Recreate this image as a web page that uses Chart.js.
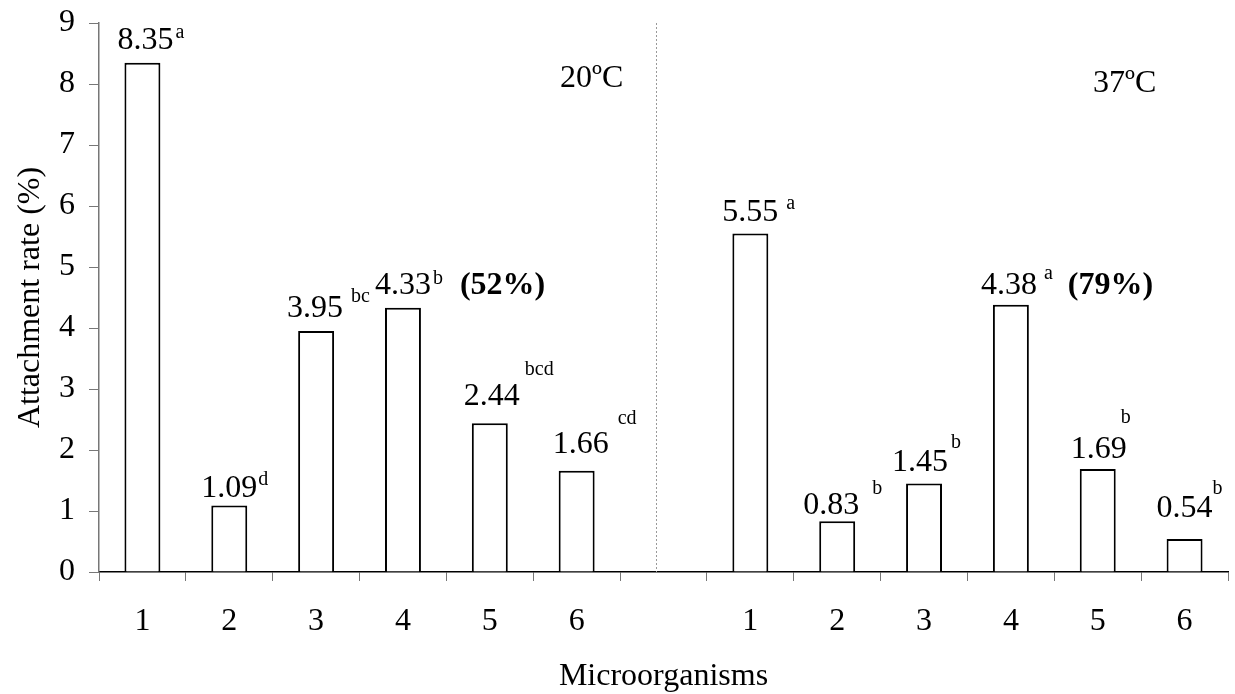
<!DOCTYPE html>
<html>
<head>
<meta charset="utf-8">
<script src="https://cdn.jsdelivr.net/npm/chart.js"></script>
<style>
  body { margin: 0; background: #fff; }
</style>
</head>
<body>
<canvas id="attachment-chart" width="1235" height="694"></canvas>
<script>
// microorganism numbers, one blank slot splits the two temperatures
var categories = ['1', '2', '3', '4', '5', '6', '', '1', '2', '3', '4', '5', '6'];

// attachment rate (%) at each temperature
var rate20 = [8.35, 1.09, 3.95, 4.33, 2.44, 1.66];
var rate37 = [5.55, 0.83, 1.45, 4.38, 1.69, 0.54];

// significance letters
var letters20 = ['a', 'd', 'bc', 'b', 'bcd', 'cd'];
var letters37 = ['a', 'b', 'b', 'a', 'b', 'b'];

// percentage shown beside strain 4
var percent20 = '(52%)';
var percent37 = '(79%)';

var groupLabels = ['20ºC', '37ºC'];

var yMin = 0, yMax = 9, yStep = 1;

var values = rate20.concat([null], rate37);
var letters = letters20.concat([''], letters37);

var serif = '"Liberation Serif", "Times New Roman", serif';

// label placement per bar: gap above bar, text nudge, letter gap and rise
var textGap = [14, 9, 14, 14, 18, 18, 0, 12, 7, 13, 11, 11, 22];
var textDx  = [3, 0, -1, 0, 2, 4, 0, 0, -6, -4, -2, 1, 0];
var supGap  = [2, 1, 8, 2, 5, 9, 0, 8, 13, 3, 7, -6, 0];
var supRise = [11, 12, 15, 10, 30, 29, 0, 12, 20, 23, 15, 35, 23];

var barLabels = {
    id: 'barLabels',
    afterDatasetsDraw: function (chart) {
        var ctx = chart.ctx;
        var bars = chart.getDatasetMeta(0).data;
        var x = chart.scales.x;
        var area = chart.chartArea;
        ctx.save();
        ctx.fillStyle = '#000';
        ctx.textBaseline = 'alphabetic';

        bars.forEach(function (bar, i) {
            if (values[i] == null) return;
            var text = values[i].toFixed(2);
            var base = bar.y - textGap[i];
            var cx = bar.x + textDx[i];
            ctx.font = '32px ' + serif;
            ctx.textAlign = 'center';
            ctx.fillText(text, cx, base);
            var w = ctx.measureText(text).width;
            ctx.font = '20px ' + serif;
            ctx.textAlign = 'left';
            ctx.fillText(letters[i], cx + w / 2 + supGap[i], base - supRise[i]);
        });

        // bold percentages beside bar 4 of each group
        ctx.font = 'bold 32px ' + serif;
        ctx.textAlign = 'left';
        [[3, percent20], [10, percent37]].forEach(function (p) {
            var bar = bars[p[0]];
            ctx.fillText(p[1], bar.x + bar.width / 2 + 39, bar.y - textGap[p[0]]);
        });

        // temperature headings
        ctx.font = '32px ' + serif;
        ctx.textAlign = 'center';
        ctx.fillText(groupLabels[0], x.getPixelForValue(5) + 15, area.top + 64);
        ctx.fillText(groupLabels[1], x.getPixelForValue(11) + 27, area.top + 69);

        // dotted divider between the temperatures
        var dx = Math.round(x.getPixelForValue(6) - 8) + 0.5;
        ctx.strokeStyle = '#999';
        ctx.lineWidth = 1;
        ctx.setLineDash([2, 2]);
        ctx.beginPath();
        ctx.moveTo(dx, area.top);
        ctx.lineTo(dx, area.bottom);
        ctx.stroke();
        ctx.restore();
    }
};

var ctx = document.getElementById('attachment-chart').getContext('2d');
var chart = new Chart(ctx, {
    type: 'bar',
    data: {
        labels: categories,
        datasets: [{
            data: values,
            backgroundColor: '#fff',
            borderColor: '#000',
            borderWidth: 2,
            barPercentage: 0.414,
            categoryPercentage: 1
        }]
    },
    options: {
        responsive: false,
        animation: false,
        layout: { padding: { top: 23, right: 7, left: 0, bottom: 0 } },
        plugins: {
            legend: { display: false },
            tooltip: { enabled: false }
        },
        scales: {
            x: {
                grid: { offset: true, drawOnChartArea: false, tickLength: 9, color: '#777' },
                border: { color: '#000', width: 1.5 },
                ticks: { color: '#000', font: { family: serif, size: 32 }, padding: 21, maxRotation: 0, autoSkip: false },
                title: { display: true, text: 'Microorganisms', color: '#000', font: { family: serif, size: 32, lineHeight: 1.1 }, padding: { bottom: 0 } },
                afterFit: function (scale) { scale.height = 122; }
            },
            y: {
                min: yMin,
                max: yMax,
                grid: { drawOnChartArea: false, tickLength: 10, color: '#777' },
                border: { color: '#777', width: 1.5 },
                ticks: { stepSize: yStep, color: '#000', font: { family: serif, size: 32 }, padding: 14 },
                title: { display: true, text: 'Attachment rate (%)', color: '#000', font: { family: serif, size: 32 }, padding: { top: 11 } },
                afterFit: function (scale) {
                    scale.width = 99;
                    scale.paddingTop = 0;
                    scale.paddingBottom = 0;
                }
            }
        }
    },
    plugins: [barLabels]
});
</script>
</body>
</html>
